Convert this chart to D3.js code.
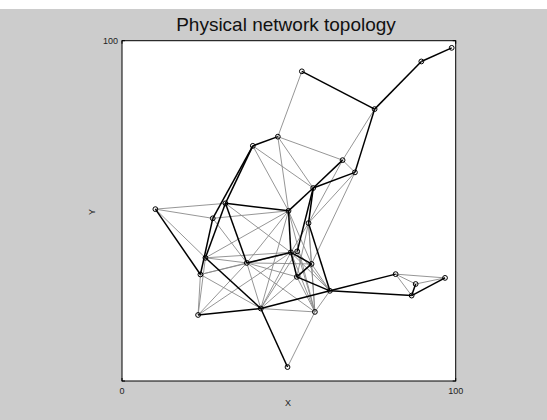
<!DOCTYPE html>
<html>
<head>
<meta charset="utf-8">
<script src="https://cdn.jsdelivr.net/npm/d3@7"></script>
<style>
  html, body { margin: 0; padding: 0; background: #fff; }
  svg { display: block; }
  text { font-family: "Liberation Sans", Arial, Helvetica, sans-serif; }
</style>
</head>
<body>
<div id="chart"></div>
<script>
// ---- Data ----
const title = "Physical network topology";
const xLabel = "X";
const yLabel = "Y";
const xTickLabels = ["0", "100"];
const yTickLabels = ["100"];

const nodeIds = ["A","B","C","D","E","F","G","H","I","J","K","L","M","N","O","P","Q","R","S","T","U","W","X","Y","Z","a","b","c","d","e"];
const nodeX = [98.8, 89.7, 75.7, 53.9, 46.7, 39.2, 66.1, 69.8, 57.3, 10.0, 27.2, 31.0, 49.9, 55.9, 25.0, 23.5, 37.4, 50.6, 52.5, 56.8, 52.4, 62.3, 82.0, 88.0, 96.8, 86.8, 22.8, 41.6, 57.8, 49.6];
const nodeY = [97.9, 93.9, 79.9, 91.0, 71.8, 69.1, 64.9, 61.3, 56.7, 50.5, 47.8, 52.2, 50.0, 46.4, 36.2, 31.3, 34.7, 37.8, 38.1, 34.4, 30.6, 26.5, 31.4, 28.5, 30.3, 25.1, 19.4, 21.3, 20.3, 4.1];

// links of the physical topology (primary links drawn dark)
const primaryLinks = [
  "A-B","B-C","C-D","C-H","H-I","G-I","I-M","E-F","F-K","F-L","K-P","L-M","L-Q","L-O",
  "J-P","M-R","I-S","I-N","N-W","R-T","T-U","U-W","R-U","Q-R","O-c","b-c","c-e","c-W",
  "W-X","W-a","a-Y","a-Z"
];
const secondaryLinks = [
  "C-G","D-E","E-G","E-I","E-M","F-I","F-M","G-H","G-N","H-N","H-T",
  "J-K","J-L","J-O","K-M","K-Q","L-R","M-Q","M-O","M-c","M-d","M-T","N-R","N-T","N-d",
  "Q-O","Q-P","Q-b","Q-c","Q-T","Q-U","Q-d","Q-S","P-b","P-c","P-S","O-b","O-R",
  "c-R","c-S","c-U","c-d","d-R","d-S","d-T","d-U","d-W","d-e","W-T","W-S","W-R",
  "X-Y","X-Z","X-a","Y-Z","b-R","N-U"
];

// ---- Layout ----
const W = 547, H = 420;
const svg = d3.select("#chart").append("svg").attr("width", W).attr("height", H);

svg.append("rect").attr("x", 0).attr("y", 9).attr("width", W).attr("height", H - 9).attr("fill", "#cccccc");

const x = d3.scaleLinear().domain([0, 100]).range([122, 455.7]);
const y = d3.scaleLinear().domain([0, 100]).range([381, 40.7]);

svg.append("rect")
  .attr("x", x(0)).attr("y", y(100))
  .attr("width", x(100) - x(0)).attr("height", y(0) - y(100))
  .attr("fill", "#ffffff");

const nodes = new Map(nodeIds.map((id, i) => [id, {id, x: nodeX[i], y: nodeY[i]}]));
function parse(list) { return list.map(s => { const [a, b] = s.split("-"); return {s: nodes.get(a), t: nodes.get(b)}; }); }

const g = svg.append("g");
g.selectAll("line.sec").data(parse(secondaryLinks)).join("line")
  .attr("class", "sec")
  .attr("x1", d => x(d.s.x)).attr("y1", d => y(d.s.y))
  .attr("x2", d => x(d.t.x)).attr("y2", d => y(d.t.y))
  .attr("stroke", "#8a8a8a").attr("stroke-width", 0.9);

g.selectAll("line.pri").data(parse(primaryLinks)).join("line")
  .attr("class", "pri")
  .attr("x1", d => x(d.s.x)).attr("y1", d => y(d.s.y))
  .attr("x2", d => x(d.t.x)).attr("y2", d => y(d.t.y))
  .attr("stroke", "#000000").attr("stroke-width", 1.5);

g.selectAll("circle").data([...nodes.values()]).join("circle")
  .attr("cx", d => x(d.x)).attr("cy", d => y(d.y)).attr("r", 2.4)
  .attr("fill", "none").attr("stroke", "#000").attr("stroke-width", 1);

// box
svg.append("rect")
  .attr("x", x(0)).attr("y", y(100))
  .attr("width", x(100) - x(0)).attr("height", y(0) - y(100))
  .attr("fill", "none").attr("stroke", "#000").attr("stroke-width", 1);

// inner corner ticks
const tk = 3;
[0, 100].forEach(v => {
  svg.append("line").attr("x1", x(v)).attr("x2", x(v)).attr("y1", y(0)).attr("y2", y(0) - tk).attr("stroke", "#000");
  svg.append("line").attr("x1", x(v)).attr("x2", x(v)).attr("y1", y(100)).attr("y2", y(100) + tk).attr("stroke", "#000");
  svg.append("line").attr("x1", x(0)).attr("x2", x(0) + tk).attr("y1", y(v)).attr("y2", y(v)).attr("stroke", "#000");
  svg.append("line").attr("x1", x(100)).attr("x2", x(100) - tk).attr("y1", y(v)).attr("y2", y(v)).attr("stroke", "#000");
});

// tick labels
svg.selectAll("text.xt").data(xTickLabels).join("text")
  .attr("class", "xt")
  .attr("x", d => x(+d)).attr("y", 394)
  .attr("text-anchor", "middle").attr("font-size", 9).attr("fill", "#222")
  .text(d => d);
svg.selectAll("text.yt").data(yTickLabels).join("text")
  .attr("class", "yt")
  .attr("x", x(0) - 4).attr("y", d => y(+d) + 3.5)
  .attr("text-anchor", "end").attr("font-size", 9).attr("fill", "#222")
  .text(d => d);

svg.append("text").attr("x", 288).attr("y", 405.5).attr("text-anchor", "middle")
  .attr("font-size", 9).attr("fill", "#222").text(xLabel);
svg.append("text").attr("transform", "translate(95,212) rotate(-90)").attr("text-anchor", "middle")
  .attr("font-size", 9).attr("fill", "#222").text(yLabel);

svg.append("text").attr("x", 286).attr("y", 31).attr("text-anchor", "middle")
  .attr("font-size", 19).attr("fill", "#111").text(title);
</script>
</body>
</html>
